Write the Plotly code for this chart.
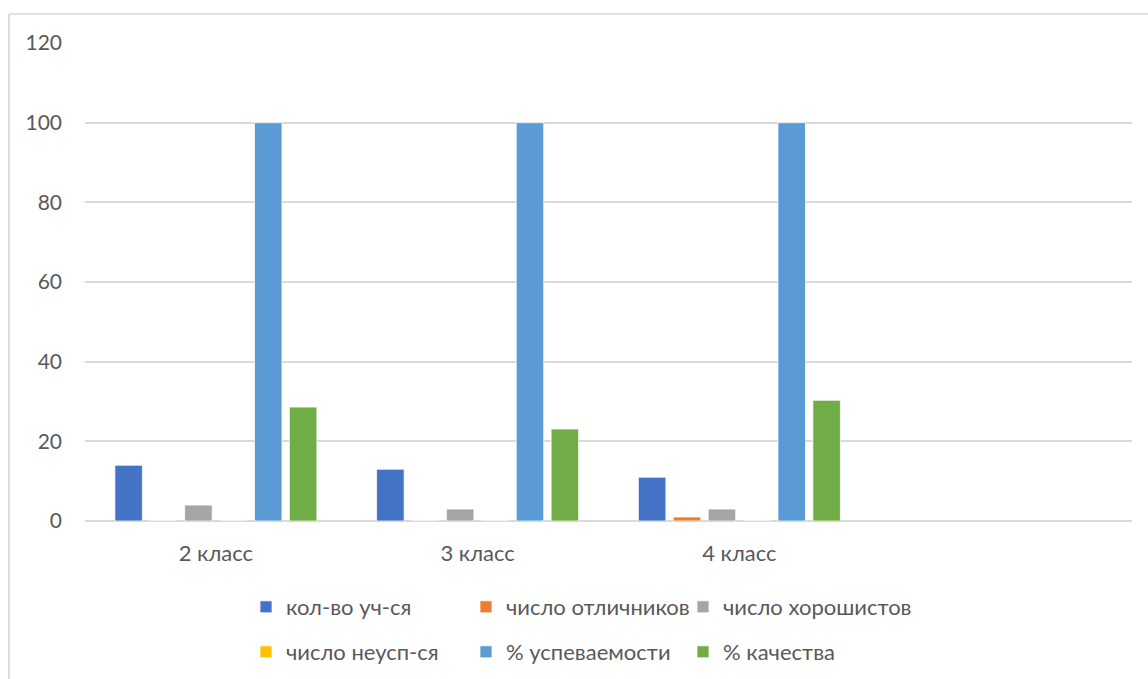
import plotly.graph_objects as go

categories = ["2 класс", "3 класс", "4 класс", " "]
series_names = ["кол-во уч-ся", "число отличников", "число хорошистов",
                "число неусп-ся", "% успеваемости", "% качества"]
kol_vo = [14, 13, 11, None]
otlichniki = [0, 0, 1, None]
horoshisty = [4, 3, 3, None]
neusp = [0, 0, 0, None]
uspevaemost = [100, 100, 100, None]
kachestvo = [28.6, 23.1, 30.3, None]
y_ticks = [0, 20, 40, 60, 80, 100, 120]

series_values = [kol_vo, otlichniki, horoshisty, neusp, uspevaemost, kachestvo]
colors = ["#4472C4", "#ED7D31", "#A5A5A5", "#FFC000", "#5B9BD5", "#70AD47"]

FONT = "Lato"
TXT = "#595959"

W, H = 1148, 679
L, R, T, B = 85, 16, 43, 158
pw = W - L - R
ph = H - T - B


def px_x(p):
    return (p - L) / pw


def px_y(p):
    return (H - B - p) / ph


legend_ids = ["legend", "legend2", "legend3", "legend4", "legend5", "legend6"]
legend_px = [(246, 607), (466, 607), (683, 607),
             (246, 652), (466, 652), (683, 652)]

fig = go.Figure()
for name, vals, col, lg in zip(series_names, series_values, colors, legend_ids):
    fig.add_trace(go.Bar(
        x=categories, y=vals, name=name, legend=lg, showlegend=True,
        marker=dict(color=col, line=dict(color="white", width=0.75)),
    ))

legend_layout = {}
for lg, (lx, ly) in zip(legend_ids, legend_px):
    legend_layout[lg] = dict(
        orientation="h",
        font=dict(family=FONT, size=22, color=TXT),
        itemwidth=30,
        bgcolor="rgba(0,0,0,0)",
        xref="container", yref="container",
        xanchor="left", yanchor="middle",
        x=lx / W, y=1 - ly / H,
        itemclick=False, itemdoubleclick=False,
    )

fig.update_layout(
    width=W, height=H,
    showlegend=True,
    template="none",
    paper_bgcolor="white", plot_bgcolor="white",
    margin=dict(l=L, r=R, t=T, b=B, pad=0, autoexpand=False),
    barmode="group",
    bargap=0.2, bargroupgap=0.212,
    font=dict(family=FONT, size=21, color=TXT),
    xaxis=dict(
        type="category", categoryorder="array", categoryarray=categories,
        showgrid=False, showline=False, zeroline=False, ticks="",
        tickfont=dict(family=FONT, size=22, color=TXT),
        ticklabelstandoff=17, automargin=False,
    ),
    yaxis=dict(
        range=[0, 120], tickvals=y_ticks, ticktext=[str(v) for v in y_ticks],
        showgrid=True, gridcolor="#d9d9d9", gridwidth=1.7,
        zeroline=True, zerolinecolor="#d9d9d9", zerolinewidth=1.7,
        showline=False, ticks="",
        tickfont=dict(family=FONT, size=21, color=TXT),
        ticklabelstandoff=22, automargin=False,
    ),
    shapes=[
        dict(type="line", xref="paper", yref="paper",
             x0=px_x(9), x1=px_x(9), y0=px_y(14), y1=px_y(H + 5),
             line=dict(color="#d9d9d9", width=1.7)),
        dict(type="line", xref="paper", yref="paper",
             x0=px_x(9), x1=px_x(W + 5), y0=px_y(14), y1=px_y(14),
             line=dict(color="#d9d9d9", width=1.7)),
    ],
    **legend_layout,
)

post = """
document.documentElement.style.margin='0';
document.documentElement.style.overflow='hidden';
document.body.style.margin='0';
document.body.style.overflow='hidden';
"""

fig.write_html("out.html", post_script=post,
               config={"displayModeBar": False})
